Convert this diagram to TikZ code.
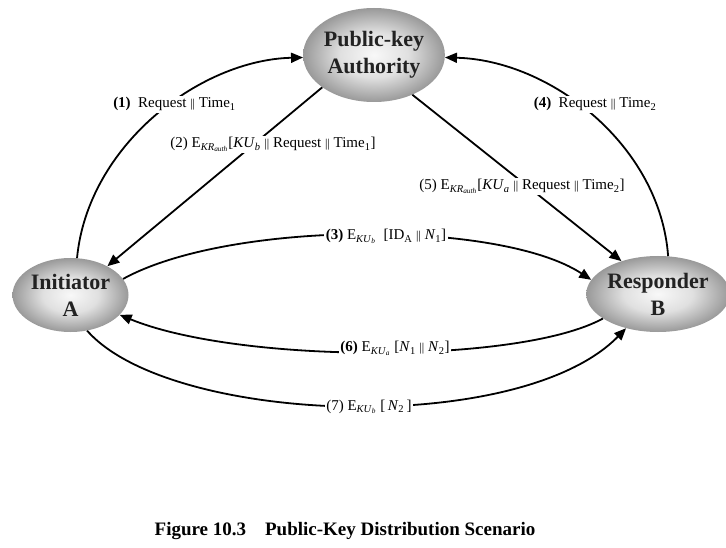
\documentclass[tikz,border=0pt]{standalone}
\usepackage{fontspec}
\setmainfont{Liberation Serif}
\usetikzlibrary{arrows.meta,shapes.geometric}
\definecolor{shadeA}{HTML}{F8F8F8}
\definecolor{shadeB}{HTML}{E0E0E0}
\definecolor{shadeC}{HTML}{999999}
\definecolor{nodetext}{HTML}{222222}
\pgfdeclareradialshading{orb}{\pgfpoint{0bp}{0bp}}{color(0bp)=(shadeA); color(12bp)=(shadeB); color(25bp)=(shadeC); color(50bp)=(shadeC)}
\newcommand{\bb}{\raisebox{0.1ex}{\fontsize{12}{12}\selectfont ||}}
\newcommand{\Ekey}[2]{E\textsubscript{\textit{#1}\textsubscript{\textit{#2}}}}
\tikzset{
  party/.style={ellipse, shading=orb, draw=none, inner sep=0pt, align=center,
    text=nodetext, font=\fontsize{22}{27}\selectfont\bfseries},
  msg/.style={line width=1.8pt, -{Triangle[length=12pt,width=10pt]}},
  lbl/.style={fill=white, inner sep=1.5pt, anchor=base, font=\fontsize{15}{17}\selectfont},
  captionstyle/.style={anchor=base, font=\fontsize{19}{21}\selectfont\bfseries}
}
\begin{document}
\begin{tikzpicture}[x=1pt,y=-1pt]
\useasboundingbox[fill=white] (0,0) rectangle (726,548);
\node[party, minimum width=138pt, minimum height=94pt] (auth) at (374,55) {Public-key\\Authority};
\node[party, minimum width=116pt, minimum height=74pt] (init) at (70.5,295) {Initiator\\A};
\node[party, minimum width=120pt, minimum height=76pt] (resp) at (658,294) {Responder\\B};

\draw[msg] (init.80) .. controls (88,145) and (200,60) .. (auth.182);
\draw[msg] (auth.212) -- (init.38);
\draw[msg] (init.17) .. controls (230,220) and (500,220) .. (resp.168);
\draw[msg] (resp.75) .. controls (660,145) and (550,60) .. (auth.-2);
\draw[msg] (auth.314) -- (resp.138);
\draw[msg] (resp.204) .. controls (520,364) and (240,364) .. (init.-22);
\draw[msg] (init.-65) .. controls (170,425) and (520,437) .. (resp.227);

\node[lbl] (l1) at (174.5,108) {\textbf{(1)}\ \ Request \bb{} Time\textsubscript{1}};
\node[lbl] (l2) at (273,148) {(2) \Ekey{KR}{auth}[\textit{KU}\textsubscript{\textit{b}} \bb{} Request \bb{} Time\textsubscript{1}]};
\node[lbl] (l4) at (595,108) {\textbf{(4)}\ \ Request \bb{} Time\textsubscript{2}};
\node[lbl] (l5) at (522,190) {(5) \Ekey{KR}{auth}[\textit{KU}\textsubscript{\textit{a}} \bb{} Request \bb{} Time\textsubscript{2}]};
\node[lbl] (l3) at (386,240) {\textbf{(3)} \Ekey{KU}{b}\ \ [ID\textsubscript{A} \bb{} \textit{N}\textsubscript{1}]};
\node[lbl] (l6) at (395,352) {\textbf{(6)} \Ekey{KU}{a} [\textit{N}\textsubscript{1} \bb{} \textit{N}\textsubscript{2}]};
\node[lbl] (l7) at (369,410) {(7) \Ekey{KU}{b} [\,\textit{N}\textsubscript{2}\,]};

\node[captionstyle] (caption) at (345,535) {Figure 10.3\quad Public-Key Distribution Scenario};
\end{tikzpicture}
\end{document}
